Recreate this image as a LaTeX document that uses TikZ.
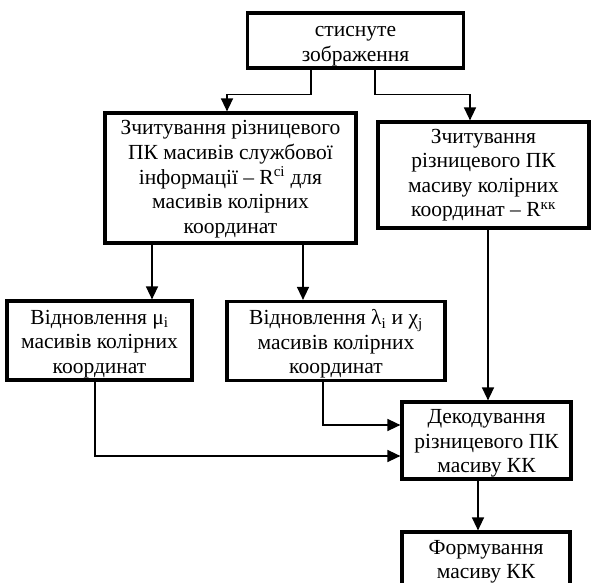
\documentclass[tikz,border=0pt]{standalone}
\usepackage{fontspec}
\setmainfont{Liberation Serif}
\usetikzlibrary{arrows.meta}
\newcommand{\bxtext}[2]{\raisebox{-#1}[\height][\depth]{\begin{tabular}{@{}c@{}}#2\end{tabular}}}
\begin{document}
\begin{tikzpicture}[x=1pt,y=-1pt,
  box/.style={draw,line width=3.2pt,inner sep=0pt,
    font=\fontsize{21.5}{24.5}\selectfont},
  arr/.style={line width=1.4pt,-{Triangle[length=13pt,width=12pt]}}]
\useasboundingbox (0,0) rectangle (592,583);
\node[box,minimum width=216pt,minimum height=55pt] (b1) at (355.5,40.5)
  {\bxtext{3.5pt}{стиснуте\\зображення}};
\node[box,minimum width=251pt,minimum height=130pt] (b2) at (230.5,178)
  {\bxtext{1pt}{Зчитування різницевого\\ПК масивів службової\\інформації – R\textsuperscript{сі} для\\масивів колірних\\координат}};
\node[box,minimum width=211pt,minimum height=106pt] (b3) at (483.5,175)
  {\bxtext{0pt}{Зчитування\\різницевого ПК\\масиву колірних\\координат – R\textsuperscript{кк}}};
\node[box,minimum width=185pt,minimum height=79pt] (b4) at (99.5,340.5)
  {\bxtext{3.5pt}{Відновлення μ\textsubscript{i}\\масивів колірних\\координат}};
\node[box,minimum width=218pt,minimum height=79pt] (b5) at (336,341)
  {\bxtext{3.5pt}{Відновлення λ\textsubscript{i} и χ\textsubscript{j}\\масивів колірних\\координат}};
\node[box,minimum width=169pt,minimum height=77pt] (b6) at (486.5,440.5)
  {\bxtext{3pt}{Декодування\\різницевого ПК\\масиву КК}};
\node[box,minimum width=168pt,minimum height=55pt] (b7) at (486,559.5)
  {\bxtext{2pt}{Формування\\масиву КК}};
\draw[arr] ([xshift=-44.5pt]b1.south) -- ++(0,25) -| ([xshift=-3.5pt]b2.north);
\draw[arr] ([xshift=19.5pt]b1.south) -- ++(0,25) -| ([xshift=-13.5pt]b3.north);
\draw[arr] ([xshift=-78.5pt]b2.south) -- ([xshift=-78.5pt]b2.south |- b4.north);
\draw[arr] ([xshift=72.5pt]b2.south) -- ([xshift=72.5pt]b2.south |- b5.north);
\draw[arr] ([xshift=4.5pt]b3.south) -- ([xshift=4.5pt]b3.south |- b6.north);
\draw[arr] ([xshift=-13pt]b5.south) |- ([yshift=15.5pt]b6.west);
\draw[arr] ([xshift=-4.5pt]b4.south) |- ([yshift=-15.5pt]b6.west);
\draw[arr] ([xshift=-8.5pt]b6.south) -- ([xshift=-8.5pt]b6.south |- b7.north);
\end{tikzpicture}
\end{document}
